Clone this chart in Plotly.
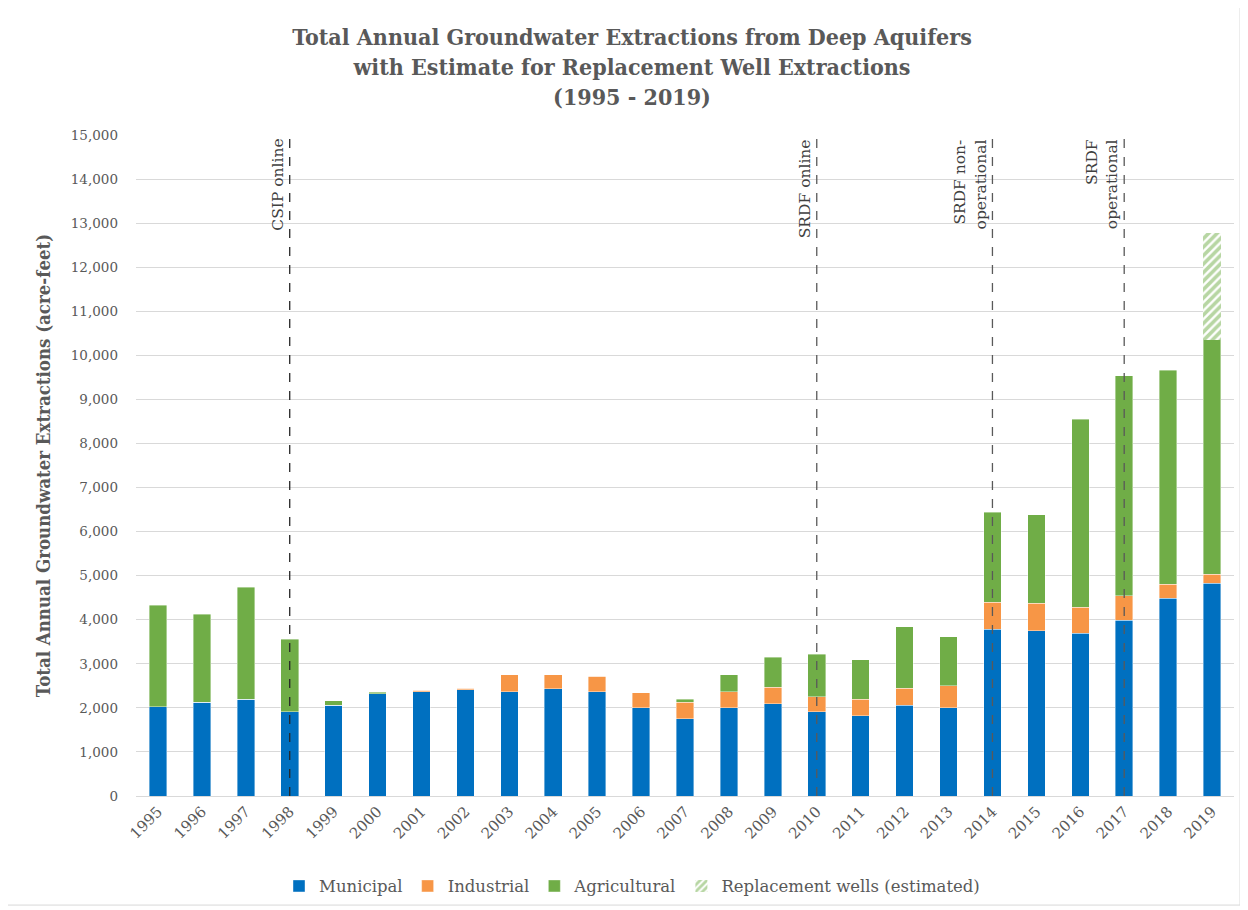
import plotly.graph_objects as go

years = [str(y) for y in range(1995, 2020)]
municipal = [2030, 2130, 2190, 1910, 2060, 2320, 2370, 2410, 2370, 2430, 2370, 2000, 1750,
             2000, 2090, 1910, 1820, 2060, 2000, 3780, 3750, 3690, 3990, 4490, 4830]
industrial = [0, 0, 0, 0, 0, 0, 30, 40, 380, 320, 350, 340, 380,
              370, 380, 340, 370, 380, 500, 620, 620, 590, 560, 310, 200]
agricultural = [2300, 1990, 2550, 1650, 100, 30, 0, 0, 0, 0, 0, 0, 60,
                380, 680, 970, 900, 1400, 1110, 2040, 2010, 4270, 4990, 4860, 5320]
replacement = [None] * 24 + [2420]

event_years = ["1998", "2010", "2014", "2017"]
event_labels = ["CSIP online", "SRDF online", "SRDF non-<br>operational", "SRDF<br>operational"]
event_colors = ["#262626", "#595959", "#595959", "#595959"]

C_MUN = "#0070C0"
C_IND = "#F79646"
C_AG = "#70AD47"
GRAY = "#595959"
TICK_FONT = "DejaVu Serif"
TITLE_FONT = "DejaVu Serif Condensed"

fig = go.Figure()
line_style = dict(width=0.8, color="rgba(255,255,255,0.5)")
fig.add_trace(go.Bar(x=years, y=municipal, name="Municipal",
                     marker=dict(color=C_MUN, line=line_style)))
fig.add_trace(go.Bar(x=years, y=industrial, name="Industrial",
                     marker=dict(color=C_IND, line=line_style)))
fig.add_trace(go.Bar(x=years, y=agricultural, name="Agricultural",
                     marker=dict(color=C_AG, line=line_style)))
fig.add_trace(go.Bar(x=years, y=replacement, name="Replacement wells (estimated)",
                     marker=dict(color="white", line=dict(width=0),
                                 pattern=dict(shape="/", fgcolor=C_AG, bgcolor="white",
                                              size=6, solidity=0.6))))

for yr, lab, col in zip(event_years, event_labels, event_colors):
    xi = years.index(yr)
    fig.add_shape(type="line", xref="x", yref="paper", x0=xi, x1=xi, y0=0, y1=1,
                  line=dict(color=col, width=1.3, dash="dash"))
    fig.add_annotation(x=xi, y=1, xref="x", yref="paper", text=lab, showarrow=False,
                       textangle=-90, xanchor="right", yanchor="top", xshift=-1, yshift=-2,
                       align="right",
                       font=dict(family=TICK_FONT, size=15.5, color="#404040"))

# outer chart border
fig.add_shape(type="rect", xref="paper", yref="paper",
              x0=-0.1175, x1=1.0055, y0=-0.165, y1=1.197,
              line=dict(color="#D9D9D9", width=1), fillcolor="rgba(0,0,0,0)", layer="below")

fig.update_layout(
    width=1248, height=910,
    margin=dict(l=128, r=22, t=127, b=122, autoexpand=False),
    paper_bgcolor="white", plot_bgcolor="white",
    barmode="stack", bargap=0.6,
    title=dict(text="Total Annual Groundwater Extractions from Deep Aquifers<br>"
                    "with Estimate for Replacement Well Extractions<br>(1995 - 2019)",
               x=0.5, xanchor="center", y=0.959, yanchor="top",
               font=dict(family=TITLE_FONT, size=23, color=GRAY, weight="bold")),
    legend=dict(orientation="h", xref="container", x=0.5, xanchor="center",
                y=-0.11, yanchor="top",
                font=dict(family=TICK_FONT, size=16.5, color=GRAY),
                itemwidth=30, traceorder="normal"),
    xaxis=dict(type="category", range=[-0.5, len(years) - 0.5], tickangle=-45, showgrid=False,
               showline=True, linecolor="#D9D9D9", linewidth=1,
               ticks="", tickfont=dict(family=TICK_FONT, size=15, color=GRAY)),
    yaxis=dict(range=[0, 15000], dtick=1000, tickformat=",",
               showgrid=True, gridcolor="#D9D9D9", gridwidth=1,
               zeroline=False, ticks="", ticklabelstandoff=17,
               tickfont=dict(family=TICK_FONT, size=13.5, color=GRAY),
               title=dict(text="Total Annual Groundwater Extractions (acre-feet)",
                          standoff=15,
                          font=dict(family=TITLE_FONT, size=18.5, color=GRAY, weight="bold"))),
)

fig.write_html("out.html")
